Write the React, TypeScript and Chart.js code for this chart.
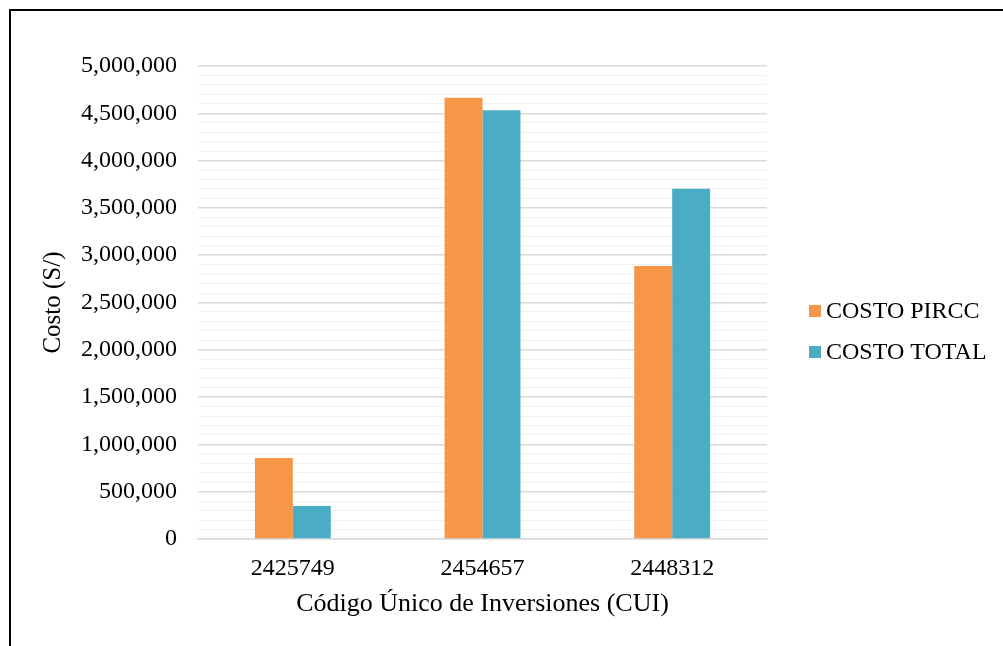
import React, { useEffect, useRef } from "react";
import { Chart, registerables } from "chart.js";

Chart.register(...registerables);

const categories = ["2425749", "2454657", "2448312"];
const costoPircc = [856000, 4665000, 2886000];
const costoTotal = [350000, 4532000, 3703000];
const seriesNames = ["COSTO PIRCC", "COSTO TOTAL"];
const seriesColors = ["#F79646", "#4BACC6"];
const yTitle = "Costo (S/)";
const xTitle = "Código Único de Inversiones (CUI)";

const FONT = "'Liberation Serif', 'Times New Roman', serif";

const legendPlugin = {
  id: "customLegend",
  afterDraw(chart: any) {
    const ctx = chart.ctx;
    ctx.save();
    ctx.font = `24px ${FONT}`;
    ctx.textBaseline = "middle";
    ctx.textAlign = "left";
    const ys = [311, 352];
    chart.data.datasets.forEach((ds: any, i: number) => {
      const y = ys[i];
      ctx.fillStyle = ds.backgroundColor;
      ctx.fillRect(809, y - 6, 12, 12);
      ctx.fillStyle = "#000";
      ctx.fillText(ds.label, 826, y + 1);
    });
    ctx.restore();
  },
};

export default function App() {
  const ref = useRef<HTMLCanvasElement | null>(null);
  useEffect(() => {
    if (!ref.current) return;
    const chart = new Chart(ref.current, {
      type: "bar",
      data: {
        labels: categories,
        datasets: [
          { label: seriesNames[0], data: costoPircc, backgroundColor: seriesColors[0] },
          { label: seriesNames[1], data: costoTotal, backgroundColor: seriesColors[1] },
        ],
      },
      plugins: [legendPlugin],
      options: {
        responsive: false,
        animation: false,
        devicePixelRatio: 1,
        layout: { padding: { top: 66, right: 236, bottom: 0, left: 20 } },
        datasets: { bar: { categoryPercentage: 0.4, barPercentage: 1 } },
        plugins: { legend: { display: false }, tooltip: { enabled: false } },
        scales: {
          x: {
            grid: { display: false },
            border: { color: "#d9d9d9", width: 1.5 },
            ticks: { color: "#000", font: { family: FONT, size: 24 }, padding: 7 },
            title: {
              display: true,
              text: xTitle,
              color: "#000",
              font: { family: FONT, size: 26 },
              padding: { top: 4, bottom: 26 },
            },
            afterFit: (scale: any) => {
              scale.height = 646 - 539;
            },
          },
          y: {
            min: 0,
            max: 5000000,
            border: { display: false },
            grid: {
              drawTicks: false,
              color: (c: any) => (c.tick && c.tick.value % 500000 === 0 ? "#d9d9d9" : "#f2f2f2"),
              lineWidth: (c: any) => (c.tick && c.tick.value % 500000 === 0 ? 1.5 : 1),
            },
            ticks: {
              stepSize: 100000,
              autoSkip: false,
              padding: 21,
              color: "#000",
              font: { family: FONT, size: 24 },
              callback: (v: any) => (Number(v) % 500000 === 0 ? Number(v).toLocaleString("en-US") : ""),
            },
            title: {
              display: true,
              text: yTitle,
              color: "#000",
              font: { family: FONT, size: 25 },
              padding: { top: 18, bottom: 0 },
            },
            afterFit: (scale: any) => {
              scale.width = 198 - 20;
            },
          },
        },
      },
    });
    return () => chart.destroy();
  }, []);
  return (
    <div style={{ position: "fixed", left: 0, top: 0, width: 1003, height: 646, background: "#fff" }}>
      <canvas ref={ref} width={1003} height={646} style={{ position: "absolute", left: 0, top: 0, display: "block" }} />
      <div
        style={{
          position: "absolute",
          left: 9,
          top: 9,
          width: 1100,
          height: 700,
          borderTop: "2px solid #000",
          borderLeft: "2px solid #000",
          pointerEvents: "none",
        }}
      />
    </div>
  );
}
